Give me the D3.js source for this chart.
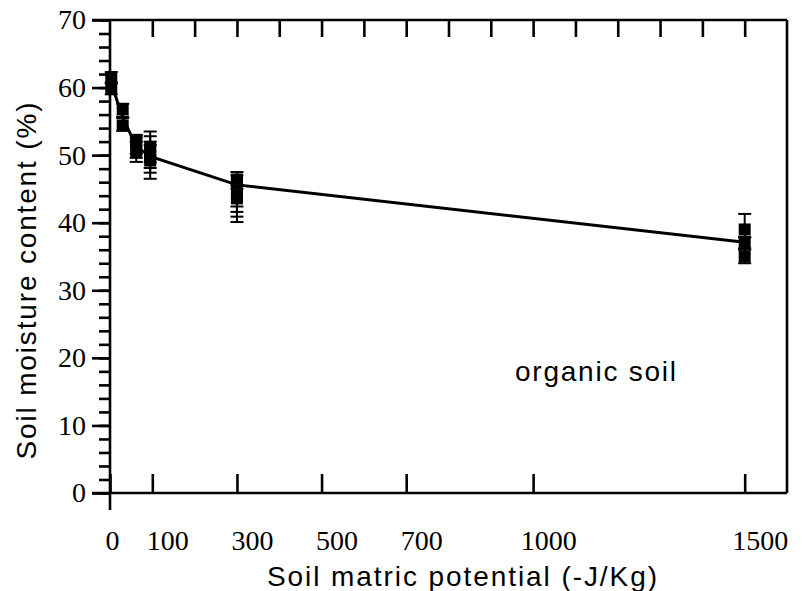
<!DOCTYPE html>
<meta charset="utf-8">
<style>
body { margin: 0; background: #fff; }
.axis path, .axis line { stroke: #000; stroke-width: 2.6px; }
.axis text { font-family: "Liberation Serif", "Times New Roman", serif; font-size: 28px; fill: #000; }
.title { font-family: "Liberation Sans", Arial, Helvetica, sans-serif; font-size: 28px; fill: #000; }
.frame { stroke: #000; stroke-width: 2.6px; fill: none; }
.mean-line { fill: none; stroke: #000; stroke-width: 3px; }
.err { stroke: #000; stroke-width: 2px; }
</style>
<svg width="804" height="591"></svg>
<script src="https://d3js.org/d3.v7.min.js"></script>
<script>
// mean curve (line)
var meanPotential = [3, 30, 62, 95, 300, 1500];
var meanMoisture  = [60.6, 55.6, 51.3, 49.8, 45.6, 37.1];

// individual measurements with error bars
var obsPotential = [3, 3, 30, 30, 62, 62, 62, 95, 95, 95, 95, 300, 300, 300, 300, 1500, 1500, 1500];
var obsMoisture  = [61.5, 59.8, 56.8, 54.4, 52.2, 51.5, 50.6, 51.2, 50.6, 49.8, 49.2, 46.4, 46.0, 44.0, 43.6, 39.0, 36.9, 35.0];
var obsLow       = [60.8, 59.0, 55.7, 53.6, 50.2, 49.6, 49.0, 48.9, 48.1, 47.4, 46.5, 42.4, 41.6, 40.9, 40.1, 37.8, 36.0, 34.0];
var obsHigh      = [62.3, 60.6, 57.6, 55.5, 53.0, 52.6, 52.0, 53.5, 52.8, 52.0, 51.5, 47.5, 47.0, 45.5, 45.0, 41.3, 37.9, 36.2];

var xLabels = [0, 100, 300, 500, 700, 1000, 1500];
var xMinor = d3.range(100, 1600, 100);
var yMajor = d3.range(0, 71, 10);
var yMinor = d3.range(0, 71, 2);

var svg = d3.select("svg");

var x = d3.scaleLinear().domain([0, 1600]).range([110, 787]);
var y = d3.scaleLinear().domain([0, 70]).range([493, 20]);

// left axis: minor + major ticks pointing out
svg.append("g")
    .attr("class", "axis")
    .attr("transform", "translate(" + x(0) + ",0)")
    .call(d3.axisLeft(y).tickValues(yMinor).tickSize(11).tickSizeOuter(0).tickFormat(""))
  .select(".domain").remove();

svg.append("g")
    .attr("class", "axis")
    .attr("transform", "translate(" + x(0) + ",0)")
    .call(d3.axisLeft(y).tickValues(yMajor).tickSize(18).tickPadding(6).tickSizeOuter(0))
  .select(".domain").remove();

// top axis: every 100, ticks inward
svg.append("g")
    .attr("class", "axis")
    .attr("transform", "translate(0," + y(70) + ")")
    .call(d3.axisTop(x).tickValues(xMinor).tickSize(-17).tickSizeOuter(0).tickFormat(""))
  .select(".domain").remove();

// bottom axis: ticks inward, labels below
var bx = svg.append("g")
    .attr("class", "axis")
    .attr("transform", "translate(0," + y(0) + ")")
    .call(d3.axisBottom(x).tickValues(xLabels).tickSize(-19).tickPadding(37)
      .tickSizeOuter(0).tickFormat(d3.format("d")));
bx.select(".domain").remove();
bx.selectAll(".tick text").attr("dx", function(d, i) { return i ? 15 : 2; });

// frame
svg.append("line").attr("class", "frame")
    .attr("x1", x(0)).attr("x2", x(0)).attr("y1", y(70)).attr("y2", y(0) + 17);
svg.append("line").attr("class", "frame")
    .attr("x1", x(0) - 18).attr("x2", x(1600)).attr("y1", y(0)).attr("y2", y(0));
svg.append("line").attr("class", "frame")
    .attr("x1", x(0) - 18).attr("x2", x(1600)).attr("y1", y(70)).attr("y2", y(70));
svg.append("line").attr("class", "frame")
    .attr("x1", x(1600)).attr("x2", x(1600)).attr("y1", y(70)).attr("y2", y(0));

// mean line
var line = d3.line()
    .x(function(d) { return x(d[0]); })
    .y(function(d) { return y(d[1]); });

svg.append("path")
    .datum(d3.zip(meanPotential, meanMoisture))
    .attr("class", "mean-line")
    .attr("d", line);

// error bars and squares
var obs = obsPotential.map(function(p, i) {
  return { p: p, v: obsMoisture[i], lo: obsLow[i], hi: obsHigh[i] };
});

var eb = svg.append("g").selectAll("g")
    .data(obs)
  .enter().append("g");

eb.append("line").attr("class", "err")
    .attr("x1", function(d) { return x(d.p); })
    .attr("x2", function(d) { return x(d.p); })
    .attr("y1", function(d) { return y(d.lo); })
    .attr("y2", function(d) { return y(d.hi); });
eb.append("line").attr("class", "err")
    .attr("x1", function(d) { return x(d.p) - 6.5; })
    .attr("x2", function(d) { return x(d.p) + 6.5; })
    .attr("y1", function(d) { return y(d.lo); })
    .attr("y2", function(d) { return y(d.lo); });
eb.append("line").attr("class", "err")
    .attr("x1", function(d) { return x(d.p) - 6.5; })
    .attr("x2", function(d) { return x(d.p) + 6.5; })
    .attr("y1", function(d) { return y(d.hi); })
    .attr("y2", function(d) { return y(d.hi); });

svg.append("g").selectAll("rect")
    .data(obs)
  .enter().append("rect")
    .attr("x", function(d) { return x(d.p) - 6; })
    .attr("y", function(d) { return y(d.v) - 6; })
    .attr("width", 12)
    .attr("height", 12)
    .attr("fill", "#000");

// titles
svg.append("text")
    .attr("class", "title")
    .attr("x", 462)
    .attr("y", 586)
    .attr("text-anchor", "middle")
    .attr("textLength", 390)
    .attr("lengthAdjust", "spacing")
    .text("Soil matric potential (-J/Kg)");

svg.append("text")
    .attr("class", "title")
    .attr("transform", "translate(36,281) rotate(-90)")
    .attr("text-anchor", "middle")
    .attr("textLength", 357)
    .attr("lengthAdjust", "spacing")
    .text("Soil moisture content (%)");

svg.append("text")
    .attr("class", "title")
    .attr("x", 515)
    .attr("y", 381)
    .attr("textLength", 161)
    .attr("lengthAdjust", "spacing")
    .text("organic soil");
</script>
